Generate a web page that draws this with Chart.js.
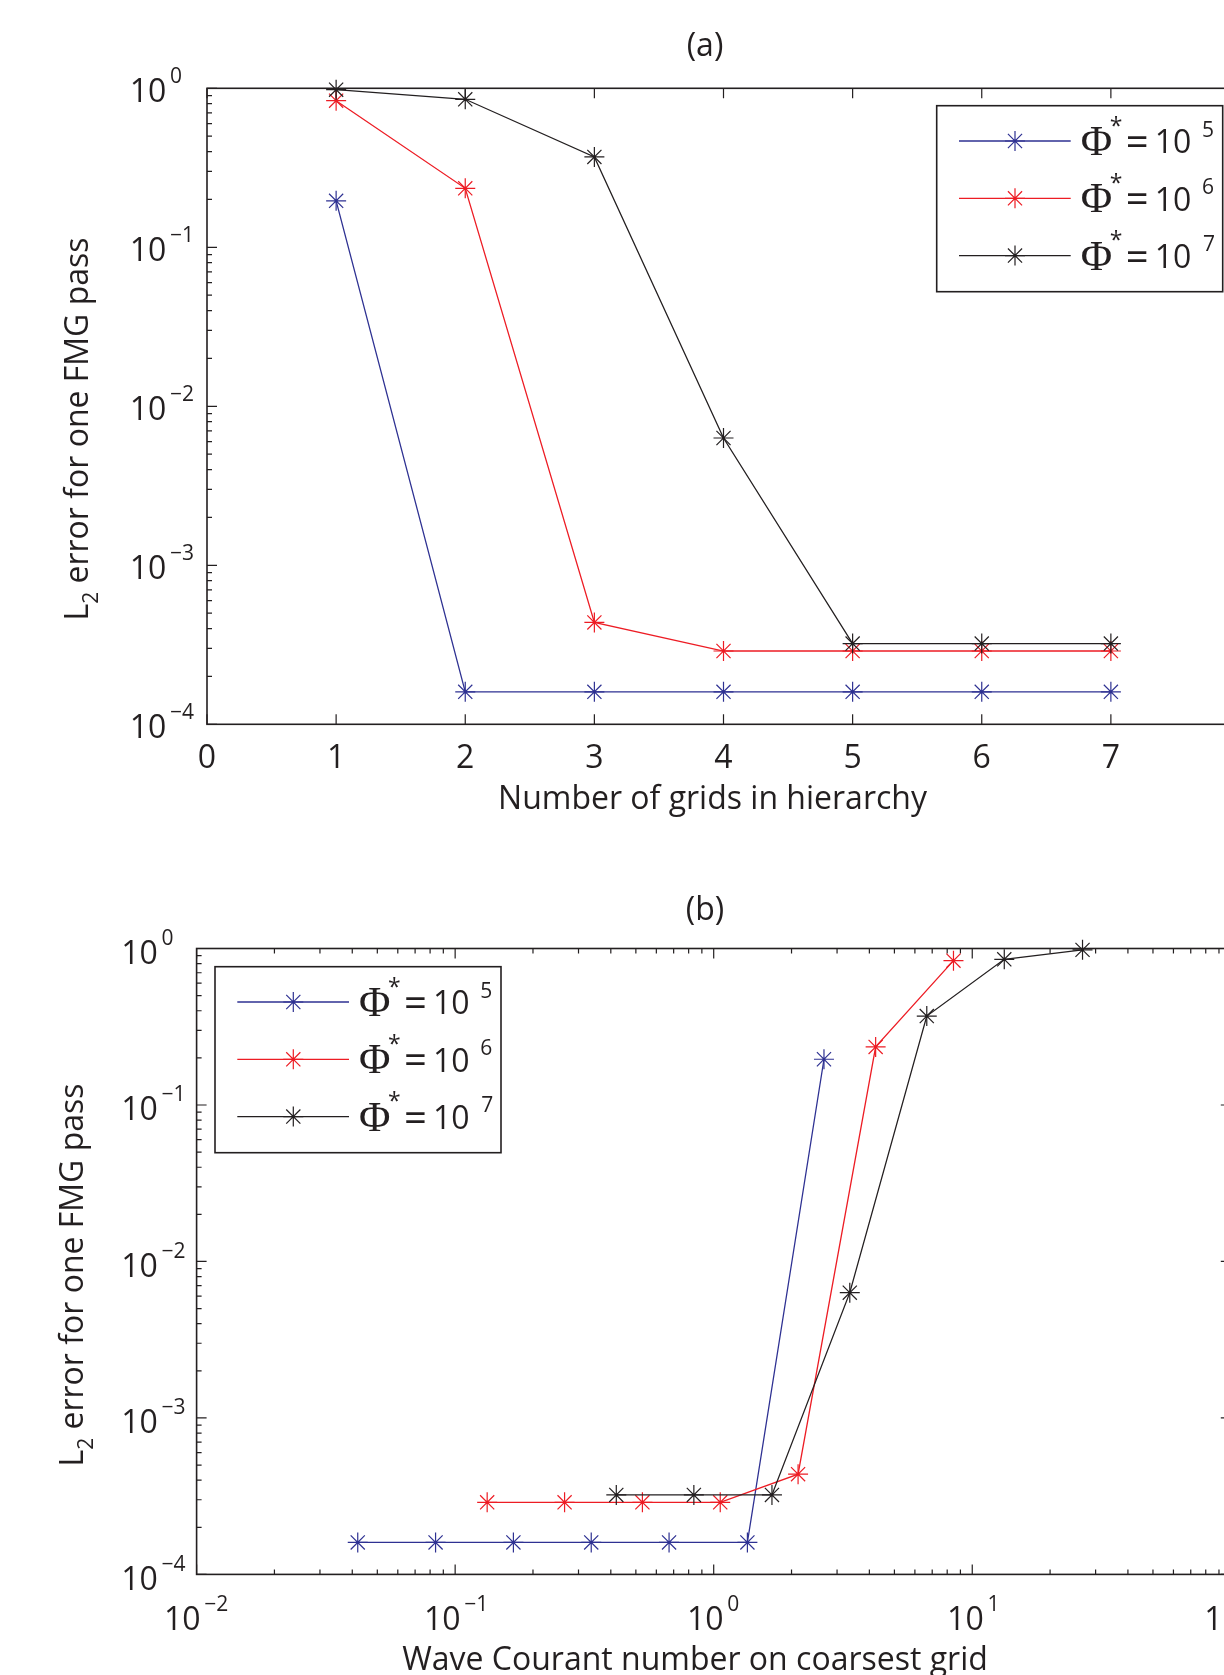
<!DOCTYPE html>
<html>
<head>
<meta charset="utf-8">
<script src="https://cdn.jsdelivr.net/npm/chart.js@4.4.1/dist/chart.umd.min.js"></script>
<style>
  html, body { margin: 0; padding: 0; background: #fff; width: 1224px; height: 1675px; overflow: hidden; }
  #wrap { position: relative; width: 1224px; height: 1675px; overflow: hidden; }
  canvas { position: absolute; left: 0; }
</style>
</head>
<body>
<div id="wrap">
  <canvas id="chartA" width="1300" height="840" style="top:0"></canvas>
  <canvas id="chartB" width="1300" height="835" style="top:840px"></canvas>
</div>
<script>
// ---- données ----
const grids = [1, 2, 3, 4, 5, 6, 7];
// erreur L2 pour une passe FMG, par nombre de grilles
const errPhi5 = [0.196, 1.6e-4, 1.6e-4, 1.6e-4, 1.6e-4, 1.6e-4, 1.6e-4];
const errPhi6 = [0.836, 0.235, 4.37e-4, 2.89e-4, 2.89e-4, 2.89e-4, 2.89e-4];
const errPhi7 = [0.98, 0.853, 0.37, 6.32e-3, 3.22e-4, 3.22e-4, 3.22e-4];
// nombre de Courant (onde) sur la grille la plus grossière, même ordre
const courantPhi5 = [2.67, 1.35, 0.672, 0.336, 0.168, 0.084, 0.042];
const courantPhi6 = [8.46, 4.23, 2.12, 1.06, 0.53, 0.265, 0.133];
const courantPhi7 = [26.7, 13.3, 6.67, 3.36, 1.68, 0.838, 0.42];

const phiExponents = ['5', '6', '7'];
const seriesLabels = ['Φ* = 10^5', 'Φ* = 10^6', 'Φ* = 10^7'];

// graduations
const gridTicks = [0, 1, 2, 3, 4, 5, 6, 7, 8];
const errDecades = [-4, -3, -2, -1, 0];
const courantDecades = [-2, -1, 0, 1, 2];

const titleA = '(a)';
const titleB = '(b)';
const xTitleA = 'Number of grids in hierarchy';
const xTitleB = 'Wave Courant number on coarsest grid';
const yTitleMain = 'L';
const yTitleSub = '2';
const yTitleRest = ' error for one FMG pass';

// ---- styles ----
const FAMILY = "'Open Sans', 'DejaVu Sans', sans-serif";
const SERIF = "'Liberation Serif', 'DejaVu Serif', serif";
const MAIN = `32px ${FAMILY}`;
const SUP = `21px ${FAMILY}`;
const INK = '#231f20';
const seriesColors = ['#2e3192', '#ed1c24', '#231f20'];

function pow10(e) { return Math.pow(10, e); }
function expText(e) { return e < 0 ? '−' + (-e) : String(e); }

function logMinor(decades) {
  const out = [];
  for (let i = 0; i < decades.length - 1; i++) {
    for (let k = 2; k <= 9; k++) out.push(k * pow10(decades[i]));
  }
  return out;
}

// texte aligné sur l'encre (gauche)
function inkText(ctx, txt, font, inkLeft, base) {
  ctx.font = font;
  ctx.textAlign = 'left';
  ctx.textBaseline = 'alphabetic';
  const m = ctx.measureText(txt);
  const x = inkLeft + m.actualBoundingBoxLeft;
  ctx.fillText(txt, x, base);
  return x + m.actualBoundingBoxRight;
}
function inkWidth(ctx, txt, font) {
  ctx.font = font;
  const m = ctx.measureText(txt);
  return m.actualBoundingBoxLeft + m.actualBoundingBoxRight;
}

// "10" + exposant
function powLabel(ctx, e, inkLeft, base) {
  const r = inkText(ctx, '10', MAIN, inkLeft, base);
  return inkText(ctx, expText(e), SUP, r + 6, base - 19);
}
function powWidth(ctx, e) {
  return inkWidth(ctx, '10', MAIN) + 6 + inkWidth(ctx, expText(e), SUP);
}

function drawStar(ctx, x, y, r, color) {
  ctx.save();
  ctx.strokeStyle = color;
  ctx.lineWidth = 1.2;
  ctx.beginPath();
  const d = r * Math.SQRT1_2;
  ctx.moveTo(x - r, y); ctx.lineTo(x + r, y);
  ctx.moveTo(x, y - r); ctx.lineTo(x, y + r);
  ctx.moveTo(x - d, y - d); ctx.lineTo(x + d, y + d);
  ctx.moveTo(x - d, y + d); ctx.lineTo(x + d, y - d);
  ctx.stroke();
  ctx.restore();
}

// cadre, graduations vers l'intérieur, textes et légende façon Matlab
const matlabAxes = {
  id: 'matlabAxes',
  beforeDatasetsDraw(chart, args, o) {
    const { ctx, chartArea: a, scales: { x, y } } = chart;
    ctx.save();
    ctx.strokeStyle = INK;
    ctx.lineWidth = 1.2;
    ctx.beginPath();
    const vt = (v, len) => {
      const p = x.getPixelForValue(v);
      ctx.moveTo(p, a.bottom); ctx.lineTo(p, a.bottom - len);
      ctx.moveTo(p, a.top); ctx.lineTo(p, a.top + len);
    };
    const ht = (v, len) => {
      const p = y.getPixelForValue(v);
      ctx.moveTo(a.left, p); ctx.lineTo(a.left + len, p);
      ctx.moveTo(a.right, p); ctx.lineTo(a.right - len, p);
    };
    o.xMajor.forEach(v => vt(v, 10));
    o.xMinor.forEach(v => vt(v, 5));
    errDecades.forEach(e => ht(pow10(e), 10));
    logMinor(errDecades).forEach(v => ht(v, 5));
    ctx.stroke();
    ctx.lineWidth = 1.6;
    ctx.strokeRect(a.left, a.top, a.right - a.left, a.bottom - a.top);
    ctx.restore();
  },
  afterDraw(chart, args, o) {
    const { ctx, scales: { x, y } } = chart;
    ctx.save();
    ctx.fillStyle = INK;

    // titre
    ctx.font = MAIN;
    ctx.textAlign = 'center';
    ctx.textBaseline = 'alphabetic';
    ctx.fillText(o.title, o.titleX, o.titleY);

    // étiquettes de l'axe y
    errDecades.forEach(e => {
      powLabel(ctx, e, o.yTickLeft, y.getPixelForValue(pow10(e)) + o.yTickDy);
    });

    // étiquettes de l'axe x
    if (o.xLog) {
      courantDecades.forEach(e => {
        const p = x.getPixelForValue(pow10(e));
        powLabel(ctx, e, p - powWidth(ctx, e) / 2, o.xTickBase);
      });
    } else {
      ctx.font = MAIN;
      ctx.textAlign = 'center';
      gridTicks.forEach(v => ctx.fillText(String(v), x.getPixelForValue(v), o.xTickBase));
    }

    // titre de l'axe x
    ctx.font = MAIN;
    ctx.textAlign = 'center';
    ctx.fillText(o.xTitle, o.xTitleX, o.xTitleY);

    // titre de l'axe y (L indice 2)
    ctx.save();
    ctx.translate(o.yTitleX, o.yTitleY);
    ctx.rotate(-Math.PI / 2);
    ctx.textAlign = 'left';
    ctx.font = MAIN;
    const wL = ctx.measureText(yTitleMain).width;
    const wRest = ctx.measureText(yTitleRest).width;
    ctx.font = SUP;
    const wSub = ctx.measureText(yTitleSub).width;
    let x0 = -(wL + wSub + wRest) / 2;
    ctx.font = MAIN; ctx.fillText(yTitleMain, x0, 0);
    ctx.font = SUP; ctx.fillText(yTitleSub, x0 + wL, 10);
    ctx.font = MAIN; ctx.fillText(yTitleRest, x0 + wL + wSub, 0);
    ctx.restore();

    // légende
    const bx = o.legendX, by = o.legendY;
    ctx.fillStyle = '#fff';
    ctx.fillRect(bx, by, 286, 186);
    ctx.strokeStyle = INK;
    ctx.lineWidth = 1.6;
    ctx.strokeRect(bx, by, 286, 186);
    chart.data.datasets.forEach((ds, i) => {
      const ry = by + 35.3 + i * 57.3;
      ctx.strokeStyle = ds.borderColor;
      ctx.lineWidth = 1.3;
      ctx.beginPath();
      ctx.moveTo(bx + 22.3, ry); ctx.lineTo(bx + 134, ry);
      ctx.stroke();
      drawStar(ctx, bx + 78.3, ry, 10, ds.borderColor);
      ctx.fillStyle = INK;
      inkText(ctx, 'Φ', `43px ${SERIF}`, bx + 145, ry + 14);
      inkText(ctx, '*', `23px ${FAMILY}`, bx + 174, ry - 7.4);
      inkText(ctx, '=', `40px ${FAMILY}`, bx + 191, ry + 15);
      inkText(ctx, '10', MAIN, bx + 220, ry + 12.3);
      inkText(ctx, phiExponents[i], SUP, bx + 266.3, ry - 4.3);
    });
    ctx.restore();
  }
};

function series(xs, ys, i) {
  return {
    label: seriesLabels[i],
    data: xs.map((v, k) => ({ x: v, y: ys[k] })),
    borderColor: seriesColors[i],
    backgroundColor: seriesColors[i],
    borderWidth: 1.3,
    pointStyle: 'star',
    pointRadius: 10,
    pointHoverRadius: 10,
    pointBorderWidth: 1.2,
    tension: 0,
    clip: false,
    order: 3 - i
  };
}

function baseOptions(xScale, padding, axes) {
  return {
    responsive: false,
    animation: false,
    devicePixelRatio: 1,
    events: [],
    layout: { padding },
    scales: {
      x: xScale,
      y: { type: 'logarithmic', min: 1e-4, max: 1, display: false }
    },
    plugins: { legend: { display: false }, tooltip: { enabled: false }, matlabAxes: axes }
  };
}

new Chart(document.getElementById('chartA'), {
  type: 'line',
  data: {
    datasets: [
      series(grids, errPhi5, 0),
      series(grids, errPhi6, 1),
      series(grids, errPhi7, 2)
    ]
  },
  options: baseOptions(
    { type: 'linear', min: 0, max: 8, display: false },
    { left: 207, top: 88.3, right: 60, bottom: 115.7 },
    {
      title: titleA, titleX: 705, titleY: 56.3,
      xTitle: xTitleA, xTitleX: 712.5, xTitleY: 808.5,
      yTitleX: 88, yTitleY: 429,
      yTickLeft: 131.7, yTickDy: 13.4,
      xTickBase: 768, xLog: false,
      xMajor: gridTicks, xMinor: [],
      legendX: 936.7, legendY: 105.7
    }
  ),
  plugins: [matlabAxes]
});

new Chart(document.getElementById('chartB'), {
  type: 'line',
  data: {
    datasets: [
      series(courantPhi5, errPhi5, 0),
      series(courantPhi6, errPhi6, 1),
      series(courantPhi7, errPhi7, 2)
    ]
  },
  options: baseOptions(
    { type: 'logarithmic', min: 0.01, max: 100, display: false },
    { left: 196.6, top: 108.5, right: 69.2, bottom: 100.6 },
    {
      title: titleB, titleX: 705, titleY: 79.5,
      xTitle: xTitleB, xTitleX: 695, xTitleY: 829.5,
      yTitleX: 83, yTitleY: 435,
      yTickLeft: 123.3, yTickDy: 15.5,
      xTickBase: 789.5, xLog: true,
      xMajor: courantDecades.map(pow10), xMinor: logMinor(courantDecades),
      legendX: 215, legendY: 126.7
    }
  ),
  plugins: [matlabAxes]
});
</script>
</body>
</html>
